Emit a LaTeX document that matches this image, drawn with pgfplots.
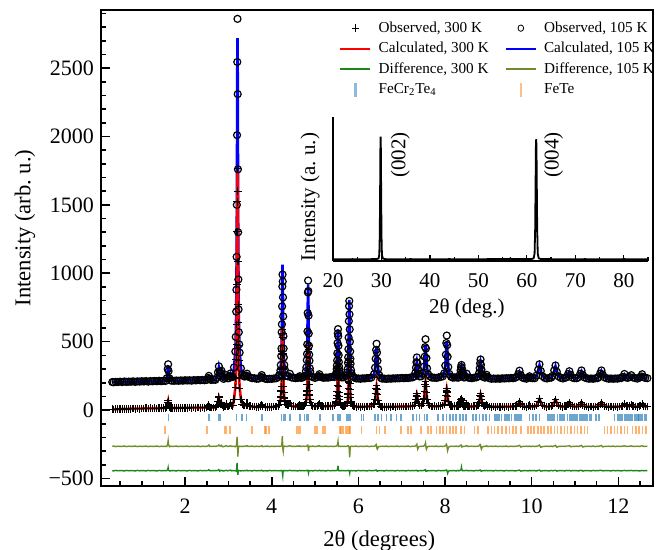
\documentclass[border=0pt]{standalone}
\usepackage{fontspec}
\setmainfont{Liberation Serif}
\usepackage{pgfplots}
\pgfplotsset{compat=1.18}
\usepackage{pgfplotstable}

\definecolor{dgreen}{RGB}{25,135,25}
\definecolor{olivec}{RGB}{110,140,40}
\definecolor{tblue}{RGB}{31,119,180}
\definecolor{torange}{RGB}{255,127,14}

% x, calc 300 K, obs 300 K, calc 105 K, obs 105 K, diff 300 K, diff 105 K
\pgfplotstableread{
x c3 o3 c1 o1 d3 d1
0.32 5 6 204 205 -443 -265
0.35 6 5 205 203 -445 -263
0.40 6 7 205 206 -441 -267
0.45 7 6 206 205 -444 -264
0.50 7 8 206 208 -442 -266
0.55 8 7 206 205 -443 -265
0.60 8 9 207 209 -445 -263
0.65 9 8 207 206 -441 -267
0.70 9 10 207 208 -444 -264
0.75 10 9 208 207 -442 -266
0.80 10 11 208 210 -443 -265
0.85 10 9 208 206 -445 -263
0.90 11 12 209 210 -441 -267
0.95 11 10 209 208 -444 -264
1.00 11 12 209 211 -442 -266
1.05 12 11 210 209 -443 -265
1.10 12 13 210 212 -445 -263
1.15 12 11 210 208 -441 -267
1.20 12 13 211 212 -444 -264
1.25 13 12 211 210 -442 -266
1.30 13 14 211 213 -443 -265
1.35 13 12 212 211 -445 -263
1.40 13 14 212 214 -441 -267
1.45 14 13 212 211 -444 -264
1.50 14 15 213 214 -442 -266
1.55 15 14 214 213 -443 -265
1.58 25 24 236 233 -443 -265
1.60 50 55 290 300 -435 -250
1.61 65 70 324 335 -420 -225
1.62 45 48 290 285 -440 -255
1.64 22 21 236 232 -445 -268
1.67 16 16 216 217 -444 -264
1.70 15 16 214 215 -442 -266
1.75 15 14 215 214 -443 -265
1.80 15 16 215 216 -445 -263
1.85 16 15 215 214 -441 -267
1.90 16 17 216 217 -444 -264
1.95 16 15 216 215 -442 -266
2.00 16 17 216 218 -443 -265
2.05 16 15 217 216 -445 -263
2.10 17 18 217 218 -441 -267
2.15 17 16 217 215 -444 -264
2.20 17 18 218 219 -442 -266
2.25 17 16 218 217 -443 -265
2.30 17 18 218 220 -445 -263
2.35 17 16 219 218 -441 -267
2.40 18 19 219 220 -444 -264
2.45 18 17 219 218 -442 -266
2.50 18 19 220 221 -443 -265
2.53 24 25 232 234 -441 -262
2.55 33 35 245 250 -436 -255
2.57 24 23 232 230 -443 -265
2.60 18 18 220 220 -444 -266
2.65 18 19 221 222 -442 -264
2.70 19 18 222 221 -443 -265
2.73 28 30 234 236 -443 -263
2.76 60 62 273 276 -440 -262
2.78 90 95 312 320 -435 -255
2.80 62 58 280 284 -447 -262
2.82 44 46 268 270 -441 -263
2.84 52 55 282 288 -440 -258
2.86 34 33 252 250 -444 -267
2.89 24 22 230 228 -445 -267
2.92 26 27 233 235 -443 -264
2.95 43 45 252 255 -440 -260
2.98 27 26 234 233 -444 -266
3.01 24 25 232 233 -442 -265
3.03 32 33 245 247 -441 -263
3.05 48 50 265 268 -439 -261
3.07 34 33 247 245 -444 -266
3.10 30 31 240 242 -443 -265
3.13 79 80 309 312 -442 -264
3.16 163 165 431 428 -444 -268
3.17 232 235 531 535 -443 -265
3.18 365 372 723 720 -445 -262
3.185 477 481 885 880 -441 -258
3.19 641 627 1122 1120 -430 -250
3.195 883 918 1472 1500 -410 -230
3.20 1210 1305 1946 2010 -386 -197
3.205 1573 1523 2470 2545 -430 -225
3.21 1745 1765 2719 2860 -440 -250
3.215 1573 1600 2470 2310 -460 -300
3.22 1210 1086 1946 1760 -474 -340
3.225 883 773 1472 1300 -455 -300
3.23 641 640 1122 955 -445 -275
3.235 477 470 885 736 -443 -268
3.24 365 360 723 569 -444 -266
3.25 232 230 531 480 -442 -264
3.26 163 160 431 420 -443 -265
3.29 79 78 309 305 -445 -266
3.32 42 43 258 260 -443 -265
3.35 36 35 250 248 -444 -266
3.38 32 33 244 245 -442 -264
3.41 38 39 250 252 -443 -263
3.43 48 50 262 266 -440 -260
3.45 36 35 248 246 -444 -266
3.50 28 29 238 239 -443 -265
3.55 26 25 234 233 -445 -263
3.60 24 25 232 233 -441 -267
3.65 23 22 230 229 -444 -264
3.70 22 23 229 230 -442 -266
3.75 30 31 240 242 -443 -264
3.77 40 42 252 256 -440 -260
3.79 30 29 240 238 -445 -267
3.85 22 23 228 229 -443 -265
3.90 22 21 228 227 -445 -263
3.95 22 23 228 229 -441 -267
4.00 23 22 229 228 -444 -264
4.05 24 25 230 231 -442 -266
4.10 26 25 233 232 -443 -265
4.15 30 31 240 241 -444 -264
4.17 40 42 253 255 -443 -265
4.20 68 70 294 290 -444 -266
4.21 91 95 327 330 -442 -264
4.22 136 140 392 395 -443 -263
4.225 174 170 447 450 -441 -262
4.23 229 235 526 569 -442 -262
4.235 310 300 644 627 -443 -245
4.24 420 430 804 758 -445 -215
4.245 542 530 980 904 -450 -190
4.25 600 590 1064 991 -470 -230
4.255 542 560 980 940 -481 -270
4.26 420 410 804 824 -460 -290
4.265 310 300 644 685 -448 -300
4.27 229 225 526 540 -444 -280
4.275 174 170 447 450 -443 -268
4.28 136 130 392 385 -442 -265
4.29 91 88 327 330 -444 -266
4.30 68 66 294 298 -443 -264
4.33 40 40 253 250 -442 -265
4.36 36 35 250 248 -444 -266
4.38 34 35 246 247 -443 -264
4.42 45 47 262 265 -440 -260
4.46 30 29 240 238 -444 -266
4.50 27 28 236 237 -442 -265
4.55 26 25 234 233 -443 -265
4.60 26 27 234 235 -445 -263
4.63 30 31 238 240 -443 -264
4.65 36 38 245 248 -441 -262
4.67 30 29 238 236 -444 -266
4.70 28 29 236 237 -442 -265
4.73 30 31 240 241 -443 -264
4.76 36 36 248 250 -444 -265
4.79 58 58 282 285 -443 -264
4.80 77 78 309 312 -442 -263
4.81 112 110 363 365 -443 -262
4.815 142 140 408 410 -441 -261
4.82 186 185 474 480 -442 -260
4.825 250 250 571 575 -443 -259
4.83 337 335 703 710 -442 -260
4.835 434 430 849 860 -441 -258
4.84 480 470 918 947 -444 -265
4.845 434 440 849 870 -450 -285
4.85 337 340 703 690 -458 -300
4.855 250 245 571 560 -447 -280
4.86 186 185 474 470 -444 -268
4.865 142 145 408 405 -443 -266
4.87 112 110 363 360 -442 -265
4.88 77 75 309 305 -443 -264
4.89 58 58 282 280 -444 -266
4.92 36 35 248 246 -443 -265
4.95 30 31 240 241 -445 -263
5.00 27 26 236 235 -441 -267
5.05 30 31 240 241 -444 -264
5.08 34 35 246 248 -443 -264
5.10 45 47 258 262 -440 -260
5.12 34 33 246 244 -444 -266
5.16 29 30 238 239 -442 -265
5.20 28 27 237 236 -443 -265
5.25 28 29 237 238 -445 -263
5.30 29 28 238 237 -441 -267
5.35 30 31 240 241 -444 -264
5.40 30 31 242 243 -442 -266
5.45 33 34 240 242 -443 -265
5.48 46 47 254 256 -442 -264
5.49 58 59 269 272 -443 -263
5.50 82 84 297 300 -441 -262
5.505 102 104 321 326 -440 -260
5.51 132 135 356 362 -438 -258
5.515 175 180 407 415 -436 -255
5.52 234 240 477 490 -432 -255
5.525 299 305 553 560 -425 -240
5.53 330 340 590 592 -407 -230
5.535 299 290 553 540 -430 -250
5.54 234 228 477 470 -440 -262
5.545 175 172 407 402 -443 -266
5.55 132 130 356 352 -444 -266
5.555 102 100 321 318 -443 -265
5.56 82 80 297 295 -442 -264
5.57 58 57 269 267 -443 -265
5.58 46 45 254 252 -444 -266
5.61 32 32 240 239 -443 -265
5.64 30 31 240 241 -442 -264
5.67 30 29 241 240 -443 -266
5.71 34 35 248 250 -444 -265
5.74 50 51 272 275 -443 -264
5.75 64 65 295 298 -442 -263
5.76 92 94 340 345 -441 -262
5.765 115 118 378 385 -440 -262
5.77 150 155 433 445 -440 -262
5.775 200 205 515 530 -441 -264
5.78 268 275 625 650 -442 -266
5.785 344 350 747 760 -444 -268
5.79 380 378 805 798 -446 -285
5.795 344 335 747 700 -452 -320
5.80 268 260 625 590 -460 -345
5.805 200 195 515 500 -448 -310
5.81 150 148 433 428 -444 -280
5.815 115 113 378 375 -443 -270
5.82 92 90 340 338 -443 -266
5.83 64 63 295 293 -442 -265
5.84 50 49 272 270 -443 -264
5.87 32 33 244 245 -444 -266
5.90 28 29 238 239 -443 -265
5.95 25 24 232 231 -445 -263
6.00 24 25 230 231 -441 -267
6.05 24 23 230 229 -444 -264
6.10 25 26 231 232 -442 -266
6.15 25 24 232 231 -443 -265
6.20 26 27 233 234 -445 -263
6.25 27 26 235 234 -441 -267
6.30 28 29 237 238 -444 -264
6.36 43 45 259 262 -442 -265
6.385 73 76 304 310 -441 -262
6.40 115 120 368 375 -440 -258
6.41 153 160 427 440 -438 -252
6.42 175 180 460 485 -440 -262
6.43 153 150 427 420 -446 -282
6.44 115 112 368 360 -447 -286
6.455 73 70 304 300 -444 -270
6.48 43 41 259 256 -443 -267
6.52 26 27 234 235 -442 -265
6.55 24 23 231 230 -443 -264
6.60 23 24 229 230 -445 -266
6.65 23 22 229 228 -441 -263
6.70 24 25 230 231 -444 -267
6.75 24 23 230 229 -442 -264
6.80 24 25 231 232 -443 -266
6.85 25 24 232 231 -445 -265
6.90 25 26 232 233 -441 -263
6.95 26 25 233 232 -444 -267
7.00 26 27 234 235 -442 -264
7.05 26 25 234 233 -443 -266
7.10 26 27 234 235 -445 -265
7.15 27 26 235 234 -441 -263
7.20 28 29 237 238 -444 -267
7.25 30 29 240 239 -442 -264
7.29 34 35 244 246 -443 -265
7.315 52 54 269 272 -442 -263
7.33 78 80 304 310 -441 -260
7.34 101 104 337 350 -440 -255
7.35 115 120 355 385 -441 -250
7.36 101 100 337 345 -445 -272
7.37 78 75 304 300 -446 -285
7.385 52 50 269 265 -444 -272
7.41 36 35 248 246 -443 -266
7.45 34 35 246 247 -442 -265
7.49 48 50 264 266 -443 -264
7.515 83 86 311 318 -441 -262
7.53 133 138 379 390 -439 -258
7.54 179 185 439 460 -437 -250
7.55 205 210 474 518 -436 -240
7.56 179 175 439 450 -447 -270
7.57 133 128 379 380 -448 -285
7.585 83 80 311 305 -445 -272
7.61 48 46 264 262 -443 -266
7.65 32 33 245 246 -444 -265
7.70 28 27 238 237 -442 -264
7.75 27 28 236 237 -443 -266
7.80 27 26 236 235 -445 -263
7.85 28 29 238 239 -441 -267
7.90 30 31 241 242 -444 -264
7.95 35 34 248 247 -442 -266
7.98 40 42 266 268 -443 -265
8.005 66 68 319 325 -441 -262
8.02 102 106 395 405 -440 -258
8.03 136 142 465 490 -438 -250
8.04 155 160 504 545 -440 -255
8.05 136 132 465 475 -450 -280
8.06 102 98 395 390 -462 -296
8.075 66 64 319 315 -448 -275
8.10 40 40 266 264 -443 -266
8.14 30 31 242 243 -444 -265
8.18 28 27 238 237 -442 -264
8.22 28 29 238 239 -443 -266
8.26 29 28 240 239 -445 -263
8.30 28 29 236 237 -441 -267
8.32 30 30 238 240 -444 -264
8.345 41 43 257 260 -442 -262
8.36 57 60 283 290 -438 -258
8.37 71 75 307 315 -435 -255
8.38 80 85 320 330 -418 -258
8.39 71 70 307 305 -438 -270
8.40 57 55 283 280 -444 -268
8.415 41 40 257 255 -443 -266
8.44 30 30 238 238 -442 -265
8.47 30 31 240 241 -443 -264
8.50 42 44 262 266 -440 -260
8.53 30 29 240 238 -444 -266
8.57 26 27 234 235 -442 -265
8.62 26 25 234 233 -443 -264
8.67 27 28 236 237 -445 -266
8.72 30 29 240 239 -441 -265
8.76 34 35 243 245 -443 -264
8.785 52 54 267 270 -442 -262
8.80 78 80 301 306 -440 -258
8.81 101 106 332 342 -438 -252
8.82 115 120 350 370 -440 -255
8.83 101 98 332 330 -446 -275
8.84 78 75 301 296 -447 -285
8.855 52 50 267 264 -444 -272
8.88 34 34 243 242 -443 -266
8.92 28 29 236 237 -442 -265
8.94 32 33 244 246 -443 -264
8.96 40 42 254 258 -441 -261
8.98 32 31 244 242 -444 -266
9.02 25 26 232 233 -442 -265
9.07 24 23 230 229 -443 -264
9.12 24 25 230 231 -445 -266
9.17 24 23 230 229 -441 -263
9.22 24 25 230 231 -444 -267
9.27 24 23 230 229 -442 -264
9.32 24 25 231 232 -443 -266
9.37 25 24 232 231 -445 -265
9.42 25 26 232 233 -441 -263
9.47 25 24 233 232 -444 -267
9.52 26 27 234 235 -442 -264
9.57 26 25 234 233 -443 -266
9.62 28 29 236 237 -445 -265
9.65 30 31 240 242 -443 -264
9.69 45 47 258 262 -441 -262
9.72 60 63 280 288 -439 -258
9.75 45 44 258 255 -446 -270
9.79 30 29 238 237 -444 -266
9.83 25 26 232 233 -442 -265
9.88 24 23 230 229 -443 -264
9.92 28 29 236 237 -445 -266
9.95 34 36 244 247 -441 -263
9.98 28 27 236 235 -444 -267
10.02 25 26 232 233 -442 -264
10.07 26 25 234 233 -443 -266
10.11 35 36 250 252 -445 -265
10.15 58 60 290 295 -441 -262
10.18 80 83 328 335 -439 -256
10.21 58 56 290 286 -446 -272
10.25 35 34 250 248 -444 -267
10.30 26 27 234 235 -442 -265
10.35 25 24 232 231 -443 -264
10.40 26 27 234 235 -445 -266
10.45 28 27 238 237 -441 -263
10.48 33 34 248 250 -444 -267
10.52 55 57 285 290 -442 -262
10.55 75 78 320 326 -440 -258
10.58 55 53 285 280 -446 -272
10.62 33 32 248 246 -443 -266
10.67 26 27 234 235 -442 -265
10.72 25 24 232 231 -443 -264
10.77 27 28 236 237 -445 -266
10.80 28 29 238 239 -441 -263
10.84 40 41 260 263 -443 -263
10.87 52 54 280 284 -441 -260
10.90 40 39 260 257 -445 -268
10.94 28 27 238 237 -443 -266
10.99 25 26 232 233 -442 -265
11.04 26 25 234 233 -443 -264
11.08 28 29 239 240 -445 -266
11.12 40 41 262 265 -441 -262
11.15 52 54 284 290 -440 -258
11.18 40 38 262 258 -446 -270
11.22 28 27 239 238 -443 -266
11.27 25 26 232 233 -442 -265
11.32 24 23 230 229 -443 -264
11.37 24 25 230 231 -445 -266
11.42 24 23 230 229 -441 -263
11.47 25 26 231 232 -444 -267
11.52 26 25 234 233 -442 -264
11.54 28 29 240 241 -443 -265
11.58 41 42 264 267 -441 -262
11.61 53 55 286 290 -440 -259
11.64 41 40 264 260 -445 -269
11.68 28 27 240 239 -443 -266
11.73 25 26 232 233 -442 -265
11.78 24 23 230 229 -443 -264
11.83 24 25 230 231 -445 -266
11.88 24 23 230 229 -441 -263
11.93 24 25 230 231 -444 -267
11.98 25 24 231 230 -442 -264
12.03 25 26 232 233 -443 -266
12.07 27 26 235 234 -445 -265
12.10 30 31 240 242 -443 -264
12.14 42 44 260 264 -441 -261
12.18 30 29 240 238 -444 -266
12.22 27 28 235 236 -442 -265
12.26 30 31 240 241 -443 -264
12.30 38 40 252 255 -441 -262
12.34 30 29 240 238 -444 -266
12.39 25 26 233 234 -442 -265
12.44 24 23 231 230 -443 -264
12.49 27 28 236 237 -445 -266
12.52 32 33 244 246 -443 -263
12.55 42 44 258 262 -441 -261
12.58 32 31 244 242 -444 -266
12.62 26 27 234 235 -442 -265
12.67 24 25 232 233 -443 -264
}\rietveld

% thin-film scan for the inset
\pgfplotstableread{
x y
20 0.005
22 0.004
24 0.005
26 0.004
28 0.005
29.0 0.006
29.4 0.01
29.55 0.04
29.65 0.2
29.72 0.55
29.78 0.9
29.83 1.0
29.88 0.9
29.94 0.55
30.01 0.2
30.1 0.04
30.3 0.01
30.8 0.005
33 0.004
36 0.005
40 0.004
44 0.005
48 0.004
52 0.005
56.4 0.005
56.6 0.012
56.8 0.005
59 0.005
61.0 0.006
61.4 0.012
61.6 0.05
61.72 0.25
61.8 0.6
61.87 0.92
61.93 0.98
61.99 0.92
62.06 0.6
62.14 0.25
62.25 0.05
62.45 0.012
62.9 0.006
65 0.005
68 0.004
72 0.005
76 0.004
80 0.005
85 0.004
}\film

\begin{document}
\begin{tikzpicture}
\useasboundingbox (0,0) rectangle (330pt,275pt);
\begin{axis}[
  at={(50.5pt,32pt)}, anchor=south west,
  scale only axis, width=276pt, height=238pt,
  xmin=0.06, xmax=12.8, ymin=-555, ymax=2925,
  xtick={2,4,...,12},
  minor xtick={0.5,1,...,12.5},
  ytick={-500,0,500,1000,1500,2000,2500},
  yticklabels={−500,0,500,1000,1500,2000,2500},
  minor ytick={-500,-400,...,2900},
  tick align=inside, xtick pos=left, ytick pos=left,
  major tick length=4.5pt, minor tick length=2.5pt,
  major tick style={black, line width=0.8pt},
  minor tick style={black, line width=0.8pt},
  axis line style={line width=1.1pt},
  tick label style={font=\fontsize{11}{13}\selectfont},
  xticklabel style={yshift=-3pt},
  /pgf/number format/assume math mode=true,
  xlabel={2θ (degrees)}, ylabel={Intensity (arb.\ u.)},
  label style={font=\fontsize{11.3}{13}\selectfont},
  xlabel style={at={(axis description cs:0.504,-0.1155)}, anchor=center},
  ylabel style={at={(axis description cs:-0.1377,0.542)}, anchor=center},
  legend columns=2, legend cell align=left,
  legend image post style={xscale=0.88},
  legend style={draw=none, fill=none, at={(0.4203,0.99)}, anchor=north west,
    font=\fontsize{7.6}{9}\selectfont,
    nodes={inner sep=0.9pt, text height=5.6pt, text depth=1.6pt},
    /tikz/every even column/.append style={column sep=7.1pt},
    /tikz/every odd column/.append style={column sep=2.7pt},
    row sep=1.3pt},
]
% legend only
\addlegendimage{only marks, mark=+, mark size=2pt, black}
\addlegendentry{Observed, 300 K}
\addlegendimage{only marks, mark=o, mark size=1.6pt, black}
\addlegendentry{Observed, 105 K}
\addlegendimage{red, line width=1pt}
\addlegendentry{Calculated, 300 K}
\addlegendimage{blue, line width=1pt}
\addlegendentry{Calculated, 105 K}
\addlegendimage{dgreen, line width=1pt}
\addlegendentry{Difference, 300 K}
\addlegendimage{olivec, line width=1pt}
\addlegendentry{Difference, 105 K}
\addlegendimage{only marks, mark=|, mark size=3.3pt, mark options={line width=1.3pt, draw=tblue!50}}
\addlegendentry{FeCr\textsubscript{2}Te\textsubscript{4}}
\addlegendimage{only marks, mark=|, mark size=3.3pt, mark options={line width=1.3pt, draw=torange!50}}
\addlegendentry{FeTe}

% 105 K pattern
\addplot[forget plot, only marks, mark=o, mark size=1.75pt, mark options={line width=0.6pt}, black] table[x=x, y=o1] {\rietveld};
\addplot[forget plot, blue, line width=1.3pt] table[x=x, y=c1] {\rietveld};
% 300 K pattern
\addplot[forget plot, only marks, mark=+, mark size=1.9pt, mark options={line width=0.6pt}, black] table[x=x, y=o3] {\rietveld};
\addplot[forget plot, red, line width=1.3pt] table[x=x, y=c3] {\rietveld};
% differences
\addplot[forget plot, olivec, line width=0.7pt] table[x=x, y=d1] {\rietveld};
\addplot[forget plot, dgreen, line width=0.7pt] table[x=x, y=d3] {\rietveld};

% reflection markers FeCr2Te4
\addplot[forget plot, only marks, mark=|, mark size=1.75pt, mark options={line width=0.8pt, draw=tblue, draw opacity=0.65}] coordinates {
(1.615,-55)(2.553,-55)(2.77,-55)(2.81,-55)(3.19,-55)(3.31,-55)(3.42,-55)(3.78,-55)
(4.23,-55)(4.27,-55)(4.30,-55)(4.42,-55)(4.65,-55)(4.76,-55)(4.80,-55)(4.84,-55)
(5.11,-55)(5.42,-55)(5.53,-55)(5.57,-55)(5.73,-55)(5.76,-55)(5.80,-55)(6.07,-55)
(6.12,-55)(6.38,-55)(6.45,-55)(6.53,-55)(6.65,-55)(6.76,-55)(6.88,-55)(6.99,-55)
(7.26,-55)(7.34,-55)(7.41,-55)(7.53,-55)(7.58,-55)(7.84,-55)(7.95,-55)(8.03,-55)
(8.11,-55)(8.18,-55)(8.26,-55)(8.34,-55)(8.41,-55)(8.49,-55)(8.64,-55)(8.72,-55)
(8.80,-55)(8.87,-55)(8.95,-55)(9.03,-55)(9.14,-55)(9.18,-55)(9.22,-55)(9.26,-55)
(9.30,-55)(9.37,-55)(9.41,-55)(9.45,-55)(9.49,-55)(9.53,-55)(9.60,-55)(9.64,-55)
(9.68,-55)(9.72,-55)(9.76,-55)(9.95,-55)(10.03,-55)(10.10,-55)(10.18,-55)(10.37,-55)
(10.41,-55)(10.45,-55)(10.49,-55)(10.53,-55)(10.60,-55)(10.64,-55)(10.68,-55)(10.72,-55)
(10.76,-55)(10.83,-55)(10.87,-55)(10.91,-55)(10.95,-55)(10.99,-55)(11.02,-55)(11.06,-55)
(11.10,-55)(11.14,-55)(11.18,-55)(11.22,-55)(11.25,-55)(11.29,-55)(11.33,-55)(11.37,-55)
(11.48,-55)(11.56,-55)(11.91,-55)(11.98,-55)(12.02,-55)(12.06,-55)(12.10,-55)(12.14,-55)
(12.18,-55)(12.21,-55)(12.25,-55)(12.29,-55)(12.33,-55)(12.37,-55)(12.41,-55)(12.45,-55)
(12.48,-55)(12.52,-55)(12.56,-55)(12.60,-55)(12.64,-55)
};
% reflection markers FeTe
\addplot[forget plot, only marks, mark=|, mark size=2pt, mark options={line width=0.8pt, draw=torange, draw opacity=0.6}] coordinates {
(1.54,-146)(2.50,-146)(2.92,-146)(2.96,-146)(3.04,-146)(3.54,-146)(3.84,-146)(3.87,-146)
(3.94,-146)(4.57,-146)(4.61,-146)(4.65,-146)(5.00,-146)(5.04,-146)(5.19,-146)(5.23,-146)
(5.57,-146)(5.60,-146)(5.65,-146)(5.70,-146)(5.74,-146)(5.78,-146)(5.81,-146)(6.07,-146)
(6.42,-146)(6.49,-146)(6.61,-146)(6.99,-146)(7.15,-146)(7.22,-146)(7.45,-146)(7.61,-146)
(7.68,-146)(7.80,-146)(7.88,-146)(7.95,-146)(8.03,-146)(8.11,-146)(8.18,-146)(8.26,-146)
(8.37,-146)(8.45,-146)(8.68,-146)(8.76,-146)(8.99,-146)(9.07,-146)(9.14,-146)(9.22,-146)
(9.30,-146)(9.33,-146)(9.41,-146)(9.49,-146)(9.57,-146)(9.64,-146)(9.76,-146)(9.91,-146)
(9.99,-146)(10.06,-146)(10.14,-146)(10.22,-146)(10.29,-146)(10.37,-146)(10.45,-146)(10.53,-146)
(10.60,-146)(10.68,-146)(10.76,-146)(10.83,-146)(10.91,-146)(10.99,-146)(11.06,-146)(11.14,-146)
(11.22,-146)(11.29,-146)(11.68,-146)(11.75,-146)(11.83,-146)(11.91,-146)(11.98,-146)(12.06,-146)
(12.14,-146)(12.21,-146)(12.33,-146)(12.41,-146)(12.48,-146)(12.56,-146)(12.64,-146)
};
\end{axis}

% ---- inset: out-of-plane scan ----
\begin{axis}[
  at={(166.5pt,144.5pt)}, anchor=south west,
  scale only axis, width=157.5pt, height=72pt,
  xmin=20, xmax=85, ymin=-0.01, ymax=1.16,
  axis x line*=bottom, axis y line*=left,
  axis line style={line width=0.7pt},
  xtick={20,30,...,80}, minor xtick={25,35,...,85},
  ytick=\empty,
  tick align=inside,
  major tick length=3pt, minor tick length=1.8pt,
  major tick style={black, line width=0.6pt},
  minor tick style={black, line width=0.6pt},
  tick label style={font=\fontsize{10.5}{12}\selectfont},
  xticklabel style={yshift=-2.5pt},
  /pgf/number format/assume math mode=true,
  xlabel={2θ (deg.)}, ylabel={Intensity (a.\ u.)},
  label style={font=\fontsize{10.5}{12}\selectfont},
  xlabel style={at={(axis description cs:0.425,-0.326)}, anchor=center},
  ylabel style={at={(axis description cs:-0.073,0.444)}, anchor=center},
]
\addplot[black, line width=0.9pt] table[x=x, y=y] {\film};
\node[rotate=90, font=\fontsize{10.5}{12}\selectfont] at (axis cs:33.9,0.85) {(002)};
\node[rotate=90, font=\fontsize{10.5}{12}\selectfont] at (axis cs:65.5,0.85) {(004)};
\end{axis}
\end{tikzpicture}
\end{document}
